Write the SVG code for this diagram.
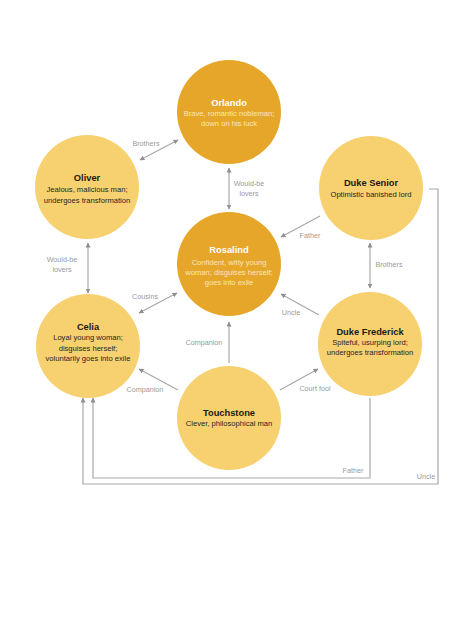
<svg xmlns="http://www.w3.org/2000/svg" width="474" height="632" viewBox="0 0 474 632">
<style>
text{font-family:"Liberation Sans",Arial,Helvetica,sans-serif;text-anchor:middle}
.dark{fill:#E5A62A}
.light{fill:#F7D06F}
.t{font-size:9.3px;font-weight:bold}
.d{font-size:7.6px}
.dt{fill:#ffffff}
.dd{fill:#FBE6B8}
.lt{fill:#1a1a1a}
.ld{fill:#262626}
.lbl{font-size:7.2px;fill:#9a9a9a}
.c{fill:none;stroke:#a8a8a8;stroke-width:1.2}
</style>
<defs>
<marker id="ah" viewBox="0 0 10 10" refX="9" refY="5" markerWidth="5" markerHeight="5" orient="auto-start-reverse" markerUnits="userSpaceOnUse">
<path d="M0,0 L10,5 L0,10 z" fill="#8f8f8f"/>
</marker>
</defs>
<rect width="474" height="632" fill="#ffffff"/>
<g id="connectors">
<line class="c" x1="140" y1="160" x2="178" y2="140" marker-start="url(#ah)" marker-end="url(#ah)"/>
<line class="c" x1="229" y1="168" x2="229" y2="209" marker-start="url(#ah)" marker-end="url(#ah)"/>
<line class="c" x1="320" y1="216" x2="281" y2="237" marker-end="url(#ah)"/>
<line class="c" x1="88" y1="243" x2="88" y2="293" marker-start="url(#ah)" marker-end="url(#ah)"/>
<line class="c" x1="370" y1="243" x2="370" y2="288" marker-start="url(#ah)" marker-end="url(#ah)"/>
<line class="c" x1="139" y1="313" x2="177" y2="293" marker-start="url(#ah)" marker-end="url(#ah)"/>
<line class="c" x1="319" y1="315" x2="281" y2="294" marker-end="url(#ah)"/>
<line class="c" x1="229" y1="363" x2="229" y2="322" marker-end="url(#ah)"/>
<line class="c" x1="178" y1="390" x2="139" y2="369" marker-end="url(#ah)"/>
<line class="c" x1="280" y1="390" x2="318" y2="369" marker-end="url(#ah)"/>
<path class="c" d="M370,398 V478 H93 V398" marker-end="url(#ah)"/>
<path class="c" d="M429,189 H438 V484 H83 V398" marker-end="url(#ah)"/>
<text class="lbl" x="146" y="146">Brothers</text>
<text class="lbl" x="249" y="186">Would-be</text>
<text class="lbl" x="249" y="196">lovers</text>
<text class="lbl" x="310" y="238">Father</text>
<text class="lbl" x="62" y="262">Would-be</text>
<text class="lbl" x="62" y="272">lovers</text>
<text class="lbl" x="389" y="267">Brothers</text>
<text class="lbl" x="145" y="299">Cousins</text>
<text class="lbl" x="291" y="315">Uncle</text>
<text class="lbl" x="204" y="345">Companion</text>
<text class="lbl" x="145" y="392">Companion</text>
<text class="lbl" x="315" y="391">Court fool</text>
<text class="lbl" x="353" y="473">Father</text>
<text class="lbl" x="426" y="479">Uncle</text>
</g>
<g id="orlando">
<circle class="dark" cx="229" cy="112" r="52"/>
<text class="t dt" x="229" y="106">Orlando</text>
<text class="d dd" x="229" y="116">Brave, romantic nobleman;</text>
<text class="d dd" x="229" y="126">down on his luck</text>
</g>
<g id="oliver">
<circle class="light" cx="87" cy="187" r="52"/>
<text class="t lt" x="87" y="181">Oliver</text>
<text class="d ld" x="87" y="192">Jealous, malicious man;</text>
<text class="d ld" x="87" y="203">undergoes transformation</text>
</g>
<g id="duke-senior">
<circle class="light" cx="371" cy="188" r="52"/>
<text class="t lt" x="371" y="186">Duke Senior</text>
<text class="d ld" x="371" y="197">Optimistic banished lord</text>
</g>
<g id="rosalind">
<circle class="dark" cx="229" cy="264" r="52"/>
<text class="t dt" x="229" y="253">Rosalind</text>
<text class="d dd" x="229" y="265">Confident, witty young</text>
<text class="d dd" x="229" y="275">woman; disguises herself;</text>
<text class="d dd" x="229" y="285">goes into exile</text>
</g>
<g id="celia">
<circle class="light" cx="88" cy="346" r="52"/>
<text class="t lt" x="88" y="330">Celia</text>
<text class="d ld" x="88" y="340">Loyal young woman;</text>
<text class="d ld" x="88" y="351">disguises herself;</text>
<text class="d ld" x="88" y="361">voluntarily goes into exile</text>
</g>
<g id="duke-frederick">
<circle class="light" cx="370" cy="344" r="52"/>
<text class="t lt" x="370" y="335">Duke Frederick</text>
<text class="d ld" x="370" y="345">Spiteful, usurping lord;</text>
<text class="d ld" x="370" y="355">undergoes transformation</text>
</g>
<g id="touchstone">
<circle class="light" cx="229" cy="418" r="52"/>
<text class="t lt" x="229" y="416">Touchstone</text>
<text class="d ld" x="229" y="426">Clever, philosophical man</text>
</g>
</svg>
